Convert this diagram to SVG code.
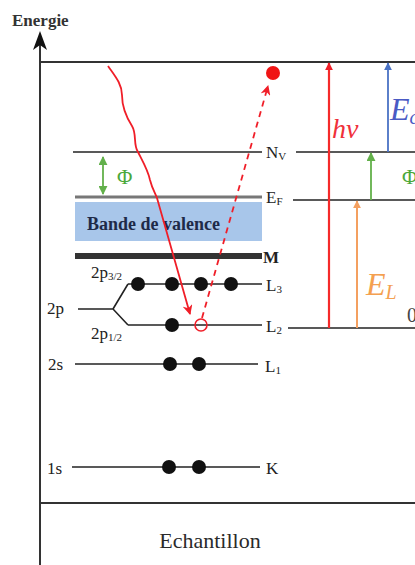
<svg xmlns="http://www.w3.org/2000/svg" width="415" height="565" viewBox="0 0 415 565">
<style>
.lbl{font-family:"Liberation Serif",serif;font-size:17px;fill:#222;}
.sub{font-size:11px;}
.lvl{stroke:#222;stroke-width:1.6;fill:none;}
.dot{fill:#111;}
.ax{stroke:#333;stroke-width:2;fill:none;}
</style>
<defs>
<marker id="ahR" viewBox="0 0 10 10" refX="9" refY="5" markerWidth="12" markerHeight="10" markerUnits="userSpaceOnUse" orient="auto"><path d="M0,0 L10,5 L0,10 L3,5 z" fill="#f01e28"/></marker>
<marker id="ahR2" viewBox="0 0 10 10" refX="9" refY="5" markerWidth="8" markerHeight="8" markerUnits="userSpaceOnUse" orient="auto"><path d="M0,0 L10,5 L0,10 z" fill="#f01e28"/></marker>
<marker id="ahB" viewBox="0 0 10 10" refX="9" refY="5" markerWidth="8" markerHeight="8" markerUnits="userSpaceOnUse" orient="auto"><path d="M0,0 L10,5 L0,10 z" fill="#4a72c4"/></marker>
<marker id="ahG" viewBox="0 0 10 10" refX="9" refY="5" markerWidth="9" markerHeight="9" markerUnits="userSpaceOnUse" orient="auto-start-reverse"><path d="M0,0 L10,5 L0,10 z" fill="#62b04a"/></marker>
<marker id="ahO" viewBox="0 0 10 10" refX="9" refY="5" markerWidth="8" markerHeight="8" markerUnits="userSpaceOnUse" orient="auto"><path d="M0,0 L10,5 L0,10 z" fill="#f4a060"/></marker>
</defs>

<g id="axis">
<line x1="40" y1="565" x2="40" y2="34" class="ax"/>
<path d="M40,31 L33,50 L40,45 L47,50 z" fill="#111"/>
<text x="12" y="26" font-family="Liberation Serif,serif" font-size="17" font-weight="bold" fill="#333">Energie</text>
<line x1="40" y1="62" x2="415" y2="62" class="ax"/>
<line x1="40" y1="503" x2="415" y2="503" class="ax"/>
<text x="210" y="548" text-anchor="middle" font-family="Liberation Serif,serif" font-size="22" fill="#2a2a2a">Echantillon</text>
</g>

<g id="valence">
<rect x="75" y="202" width="187" height="39" fill="#a8c6ea"/>
<text x="87" y="230" font-family="Liberation Serif,serif" font-size="18" font-weight="bold" fill="#1e2a48">Bande de valence</text>
</g>

<g id="levels">
<line x1="73" y1="152" x2="262" y2="152" class="lvl"/>
<text x="266" y="158" class="lbl">N<tspan class="sub" dy="2">V</tspan></text>
<line x1="75" y1="197" x2="262" y2="197" stroke="#777" stroke-width="3"/>
<text x="266" y="203" class="lbl">E<tspan class="sub" dy="2">F</tspan></text>
<line x1="75" y1="256" x2="262" y2="256" stroke="#333" stroke-width="6"/>
<text x="263" y="263" class="lbl" font-weight="bold">M</text>
<line x1="128" y1="284" x2="262" y2="284" class="lvl"/>
<text x="266" y="291" class="lbl">L<tspan class="sub" dy="2">3</tspan></text>
<line x1="128" y1="325" x2="262" y2="325" class="lvl"/>
<text x="266" y="332" class="lbl">L<tspan class="sub" dy="2">2</tspan></text>
<path d="M78,309 L113,309 M128,284 L113,309 L128,325" class="lvl"/>
<text x="47" y="314" class="lbl">2p</text>
<text x="91" y="278" class="lbl">2p<tspan class="sub" dy="2">3/2</tspan></text>
<text x="91" y="339" class="lbl">2p<tspan class="sub" dy="2">1/2</tspan></text>
<line x1="75" y1="364" x2="258" y2="364" class="lvl"/>
<text x="48" y="370" class="lbl">2s</text>
<text x="265" y="372" class="lbl">L<tspan class="sub" dy="2">1</tspan></text>
<line x1="72" y1="467" x2="260" y2="467" class="lvl"/>
<text x="47" y="474" class="lbl">1s</text>
<text x="266" y="474" class="lbl">K</text>
</g>

<g id="electrons">
<circle cx="138" cy="284" r="7" class="dot"/>
<circle cx="172" cy="284" r="7" class="dot"/>
<circle cx="201" cy="284" r="7" class="dot"/>
<circle cx="231" cy="284" r="7" class="dot"/>
<circle cx="172" cy="325" r="7" class="dot"/>
<circle cx="170" cy="364" r="7" class="dot"/>
<circle cx="199" cy="364" r="7" class="dot"/>
<circle cx="169" cy="467" r="7" class="dot"/>
<circle cx="199" cy="467" r="7" class="dot"/>
<circle cx="201" cy="325" r="6" fill="none" stroke="#f01e28" stroke-width="1.6"/>
<circle cx="273" cy="73" r="7" fill="#f01414"/>
</g>

<g id="right-levels">
<line x1="296" y1="152" x2="415" y2="152" class="lvl"/>
<line x1="293" y1="200" x2="415" y2="200" class="lvl"/>
<line x1="288" y1="328" x2="415" y2="328" class="lvl"/>
<text x="407" y="322" font-family="Liberation Serif,serif" font-size="20" fill="#444">0</text>
</g>

<g id="connectors">
<path d="M108,66 C115,76 122,84 122,95 C122,106 125,115 132,126 C137,134 133,145 138,152 C142,160 148,170 150,180 C152,188 155,193 157,198 L190,314" fill="none" stroke="#f01e28" stroke-width="1.8" marker-end="url(#ahR)"/>
<line x1="202" y1="318" x2="268" y2="86" stroke="#f01e28" stroke-width="1.8" stroke-dasharray="6,5" marker-end="url(#ahR)"/>
<line x1="103" y1="157" x2="103" y2="194" stroke="#62b04a" stroke-width="1.8" marker-start="url(#ahG)" marker-end="url(#ahG)"/>
<line x1="329" y1="328" x2="329" y2="63" stroke="#f52a2a" stroke-width="2.2" marker-end="url(#ahR2)"/>
<line x1="388" y1="152" x2="388" y2="63" stroke="#4a72c4" stroke-width="1.8" marker-end="url(#ahB)"/>
<line x1="371" y1="200" x2="371" y2="153" stroke="#62b04a" stroke-width="1.8" marker-end="url(#ahG)"/>
<line x1="357" y1="328" x2="357" y2="201" stroke="#f4a060" stroke-width="2" marker-end="url(#ahO)"/>
</g>

<g id="labels">
<text x="117" y="184" font-family="Liberation Serif,serif" font-size="21" fill="#4aa83a">Φ</text>
<text x="402" y="184" font-family="Liberation Serif,serif" font-size="21" fill="#4aa83a">Φ</text>
<text x="332" y="138" font-family="Liberation Serif,serif" font-size="28" font-style="italic" fill="#f0303a">hν</text>
<text x="390" y="120" font-family="Liberation Serif,serif" font-size="32" font-style="italic" fill="#4a5ac4">E<tspan font-size="20" dy="4">c</tspan></text>
<text x="366" y="295" font-family="Liberation Serif,serif" font-size="32" font-style="italic" fill="#f4a050">E<tspan font-size="20" dy="4">L</tspan></text>
</g>
</svg>
